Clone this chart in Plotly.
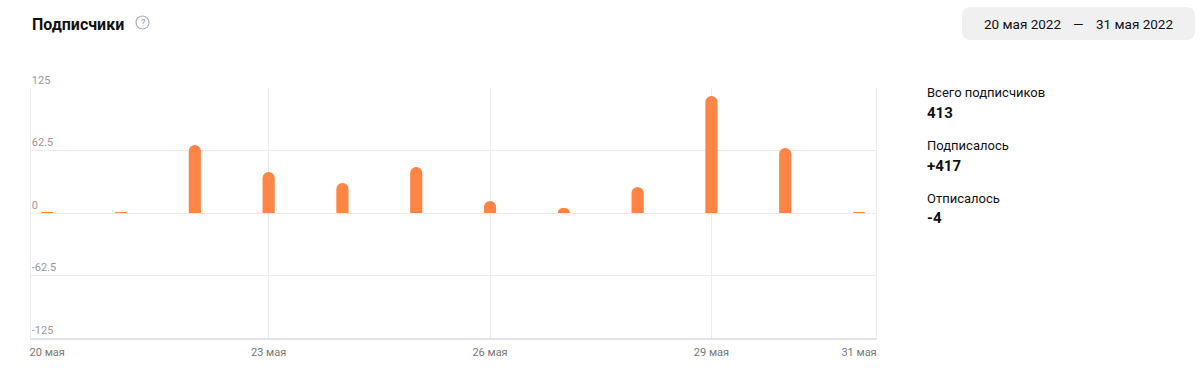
import plotly.graph_objects as go

# ---- data ----
days = [20, 21, 22, 23, 24, 25, 26, 27, 28, 29, 30, 31]
net_subs = [1, 1, 68, 41, 30, 46, 12, 5, 26, 117, 65, 1]
x_tick_vals = [20, 23, 26, 29, 31]
x_tick_text = ["20 мая", "23 мая", "26 мая", "29 мая", "31 мая"]
x_grid_vals = [23, 26, 29]
y_tick_vals = [-125, -62.5, 0, 62.5, 125]
y_tick_text = ["-125", "-62.5", "0", "62.5", "125"]
title_text = "Подписчики"
date_from = "20 мая 2022"
date_to = "31 мая 2022"
stat_labels = ["Всего подписчиков", "Подписалось", "Отписалось"]
stat_values = ["413", "+417", "-4"]

W, H = 1200, 375
L, R, T, B = 31, 876, 88, 338
FONT = "Roboto"

def px(x):
    return (x - L) / (R - L)

def py(y):
    return (B - y) / (B - T)

fig = go.Figure()
fig.add_trace(go.Bar(
    x=days, y=net_subs, width=0.165,
    marker=dict(color="#ff8547", line=dict(width=0)),
    hoverinfo="x+y",
))

fig.update_layout(
    width=W, height=H,
    margin=dict(l=L, r=W - R, t=T, b=H - B),
    paper_bgcolor="white", plot_bgcolor="white",
    barcornerradius=6,
    showlegend=False,
    font=dict(family=FONT, color="#222"),
)
fig.update_xaxes(
    range=[19.78, 31.23],
    tickmode="array", tickvals=x_tick_vals, ticktext=x_tick_text,
    showgrid=False,
    minor=dict(tickmode="array", tickvals=x_grid_vals, showgrid=True,
               gridcolor="#ebebeb", gridwidth=1, ticks=""),
    showline=True, linecolor="#e2e2ea", linewidth=2,
    ticks="", ticklabelstandoff=3,
    tickfont=dict(size=11, color="#777", family=FONT),
    zeroline=False,
)
fig.update_yaxes(
    range=[-125, 125],
    tickmode="array", tickvals=y_tick_vals, ticktext=y_tick_text,
    showgrid=True, gridcolor="#ebebeb", gridwidth=1,
    zeroline=True, zerolinecolor="#ebebeb", zerolinewidth=1,
    showline=True, linecolor="#ebebeb", linewidth=1, mirror=True,
    ticks="", ticklabelposition="inside", ticklabelshift=-8,
    ticklabeloverflow="allow",
    tickfont=dict(size=11, color="#999", family=FONT),
)

# title and help icon
fig.add_annotation(xref="paper", yref="paper", x=px(30), y=py(24),
                   xanchor="left", yanchor="middle", showarrow=False,
                   text="<b>" + title_text + "</b>",
                   font=dict(size=16, color="#111", family=FONT))
fig.add_shape(type="circle", xref="paper", yref="paper",
              x0=px(136), x1=px(149), y0=py(16), y1=py(29),
              line=dict(color="#b0b0b0", width=1.2))
fig.add_annotation(xref="paper", yref="paper", x=px(142.5), y=py(22.5),
                   xanchor="center", yanchor="middle", showarrow=False,
                   text="?", font=dict(size=9, color="#a0a0a0", family=FONT))

# date range box with rounded corners
x0, x1, y0, y1, r = 962, 1195, 7, 40, 9
path = (f"M {px(x0 + r)},{py(y0)} L {px(x1 - r)},{py(y0)} "
        f"Q {px(x1)},{py(y0)} {px(x1)},{py(y0 + r)} "
        f"L {px(x1)},{py(y1 - r)} Q {px(x1)},{py(y1)} {px(x1 - r)},{py(y1)} "
        f"L {px(x0 + r)},{py(y1)} Q {px(x0)},{py(y1)} {px(x0)},{py(y1 - r)} "
        f"L {px(x0)},{py(y0 + r)} Q {px(x0)},{py(y0)} {px(x0 + r)},{py(y0)} Z")
fig.add_shape(type="path", xref="paper", yref="paper", path=path,
              fillcolor="#f0f0f0", line=dict(width=0), layer="below")
fig.add_annotation(xref="paper", yref="paper", x=px(1023), y=py(24),
                   xanchor="center", yanchor="middle", showarrow=False,
                   text=date_from, font=dict(size=13.5, color="#111", family=FONT))
fig.add_annotation(xref="paper", yref="paper", x=px(1078), y=py(24),
                   xanchor="center", yanchor="middle", showarrow=False,
                   text="—", font=dict(size=13.5, color="#111", family=FONT))
fig.add_annotation(xref="paper", yref="paper", x=px(1134), y=py(24),
                   xanchor="center", yanchor="middle", showarrow=False,
                   text=date_to, font=dict(size=13.5, color="#111", family=FONT))

# stats panel
label_y = [92, 145, 198]
value_y = [113, 166, 218]
for lab, val, ly, vy in zip(stat_labels, stat_values, label_y, value_y):
    fig.add_annotation(xref="paper", yref="paper", x=px(925), y=py(ly),
                       xanchor="left", yanchor="middle", showarrow=False,
                       text=lab, font=dict(size=13, color="#111", family=FONT))
    fig.add_annotation(xref="paper", yref="paper", x=px(925), y=py(vy),
                       xanchor="left", yanchor="middle", showarrow=False,
                       text="<b>" + val + "</b>",
                       font=dict(size=15, color="#111", family=FONT))

fig.write_html("out.html")
